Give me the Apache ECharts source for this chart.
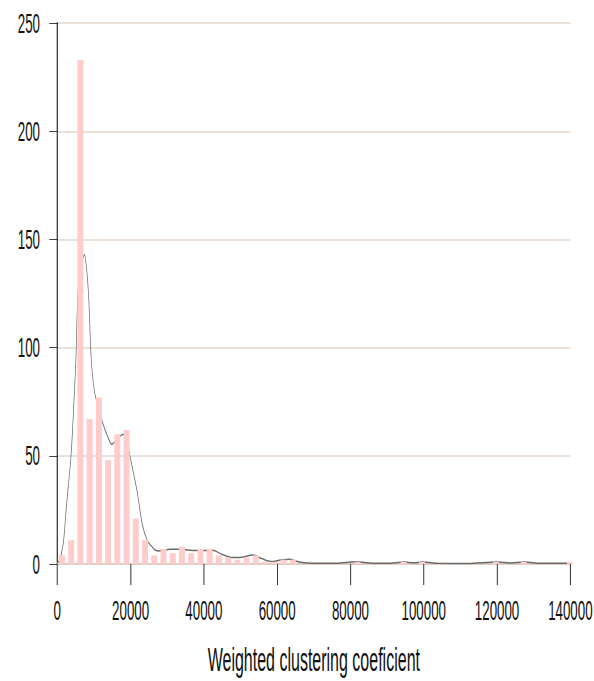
<!DOCTYPE html>
<html>
<head>
<meta charset="utf-8">
<script src="https://cdn.jsdelivr.net/npm/echarts@6/dist/echarts.min.js"></script>
<style>
html,body{margin:0;padding:0;overflow:hidden;background:#fff;width:594px;height:681px}
#wrap{width:594px;height:681px;overflow:hidden;position:relative;background:#fff}
#main{width:1235px;height:681px;transform:scaleX(0.480972);transform-origin:0 0}
</style>
</head>
<body>
<div id="wrap"><div id="main"></div></div>
<script>
// Histogram bins (bin mid-points) and counts
const binMids = [1260, 3780, 6300, 8820, 11340, 13860, 16380, 18900, 21420, 23940,
  26460, 28980, 31500, 34020, 36540, 39060, 41580, 44100, 46620, 49140,
  51660, 54180, 56700, 59220, 61740, 64260, 81900, 94500, 99540, 119700,
  127260, 139860];
const counts = [4, 11, 233, 67, 77, 48, 60, 62, 21, 11,
  4, 7, 5, 8, 5, 7, 7, 4, 3, 2,
  3, 4, 1, 1, 2, 2, 1, 1, 1, 1,
  1, 1];

// Density curve (scaled to counts)
const kdeX = [0, 540, 1000, 1720, 2450, 3700, 4400, 5080, 5630, 6400, 7400, 8080, 8600, 9250,
  10150, 11240, 12240, 13500, 14880, 16500, 17950, 19000, 19940, 21760, 23200, 24560, 25300,
  26660, 28020, 30740, 33460, 36180, 38900, 42440, 44900, 47880, 49780, 53320, 55760, 58490,
  60930, 63380, 65290, 66920, 70000, 76000, 81600, 86000, 90000, 94700, 97200, 99800, 104000,
  112000, 120000, 123700, 127500, 132000, 140000];
const kdeY = [0.5, 1.5, 4, 10.7, 26, 49, 70, 95, 125, 137, 143, 135, 122, 95,
  79.6, 72, 66, 60, 55.4, 58, 60, 56, 49, 33.7, 18.3, 10.7, 9.1,
  6.5, 6.0, 6.8, 6.8, 6.3, 6.2, 6.3, 4.5, 3.0, 3.0, 4.2, 2.5, 1.1,
  1.8, 2.2, 1.3, 0.7, 0.4, 0.3, 1.0, 0.3, 0.3, 0.9, 0.6, 0.9, 0.3,
  0.2, 0.9, 0.5, 0.9, 0.3, 0.3];

const xMin = 0, xMax = 140000, xStep = 20000;
const yMin = 0, yMax = 250, yStep = 50;
const xTitle = 'Weighted clustering coeficient';

const W = 1235, S = 594 / W;
const hx = v => v / S; // horizontal final pixels -> pre-scale pixels
const font = 'Liberation Sans, Arial, sans-serif';

const chart = echarts.init(document.getElementById('main'), null, {renderer: 'svg', width: W, height: 681});
chart.setOption({
  animation: false,
  backgroundColor: '#ffffff',
  grid: {left: hx(57.3), right: W - hx(572), top: 23.2, bottom: 681 - 565.7, containLabel: false},
  xAxis: {
    type: 'value', min: xMin, max: xMax, interval: xStep,
    axisLine: {show: true, lineStyle: {color: '#D8C8BE', width: 1.5}},
    axisTick: {show: true, length: 21, lineStyle: {color: '#333', width: hx(1)}},
    axisLabel: {margin: 32, fontFamily: font, fontSize: 27.7, color: '#111', formatter: v => String(v)},
    splitLine: {show: false},
    name: xTitle, nameLocation: 'middle', nameGap: 79,
    nameTextStyle: {fontFamily: font, fontSize: 33.3, color: '#111'}
  },
  yAxis: {
    type: 'value', min: yMin, max: yMax, interval: yStep,
    axisLine: {show: true, lineStyle: {color: '#000', width: hx(1)}},
    axisTick: {show: true, length: hx(8), lineStyle: {color: '#000', width: 1}},
    axisLabel: {margin: hx(17.3), fontFamily: font, fontSize: 27.7, color: '#111', formatter: v => String(v)},
    splitLine: {show: true, lineStyle: {color: '#E6D7CD', width: 1.5}}
  },
  series: [
    {
      type: 'line',
      data: kdeX.map((x, i) => [x, kdeY[i]]),
      showSymbol: false,
      smooth: 0.3,
      lineStyle: {color: '#6a6a6a', width: 1.5},
      z: 2
    },
    {
      type: 'bar',
      data: binMids.map((x, i) => [x, counts[i]]),
      barWidth: hx(6),
      itemStyle: {color: '#FFCCCC'},
      clip: true,
      z: 3
    }
  ]
});
</script>
</body>
</html>
